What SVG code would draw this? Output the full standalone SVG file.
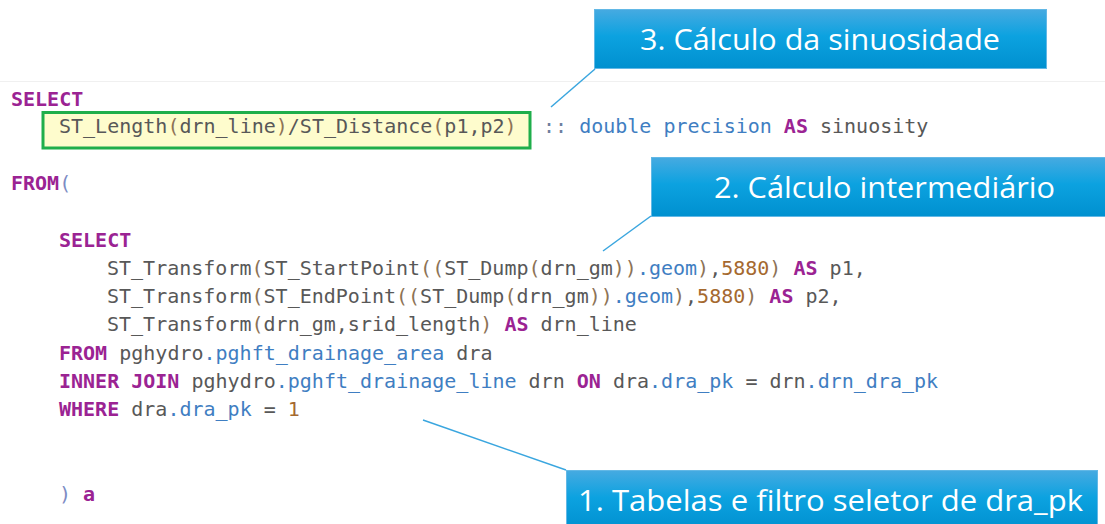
<svg xmlns="http://www.w3.org/2000/svg" width="1105" height="524" viewBox="0 0 1105 524">
  <defs>
    <linearGradient id="calloutFill" x1="0" y1="0" x2="0" y2="1">
      <stop offset="0" stop-color="#46aae1"/>
      <stop offset="0.45" stop-color="#0ca2e0"/>
      <stop offset="1" stop-color="#0090cf"/>
    </linearGradient>
    <style>
      .code { font-family: "DejaVu Sans Mono", "Liberation Mono", monospace; font-size: 20px; fill: #585858; }
      .kw { fill: #9b2393; font-weight: bold; }
      .id { fill: #3f7ec2; }
      .num { fill: #a5692f; }
      .par { fill: #8d7356; }
      .par2 { fill: #7d8cc4; }
      .op { fill: #6f7f9f; }
      .callout rect { fill: url(#calloutFill); stroke: #62b8e6; stroke-width: 1; }
      .callout text { font-family: "Open Sans", "Noto Sans", sans-serif; font-size: 29px; fill: #ffffff; }
      .conn line { stroke: #3aa6df; stroke-width: 1.5; fill: none; }
    </style>
  </defs>

  <rect x="0" y="0" width="1105" height="524" fill="#ffffff"/>
  <line x1="0" y1="81.5" x2="1105" y2="81.5" stroke="#f0f0f0" stroke-width="1"/>

  <!-- highlighted sinuosity expression -->
  <rect id="highlight" x="43" y="112.5" width="487" height="35.5" fill="#fefccd" stroke="#1fae4b" stroke-width="3"/>

  <!-- SQL listing -->
  <g id="sql" class="code" xml:space="preserve">
    <text x="11" y="105.7"><tspan class="kw">SELECT</tspan></text>
    <text x="59" y="133.3">ST_Length<tspan class="par">(</tspan>drn_line<tspan class="par">)</tspan>/ST_Distance<tspan class="par">(</tspan>p1,p2<tspan class="par">)</tspan></text>
    <text x="543" y="133.3"><tspan class="op">::</tspan> <tspan class="id">double precision</tspan> <tspan class="kw">AS</tspan> sinuosity</text>
    <text x="11" y="190"><tspan class="kw">FROM</tspan><tspan class="par2">(</tspan></text>
    <text x="59" y="246.7"><tspan class="kw">SELECT</tspan></text>
    <text x="107" y="274.9">ST_Transform<tspan class="par">(</tspan>ST_StartPoint<tspan class="par">((</tspan>ST_Dump<tspan class="par">(</tspan>drn_gm<tspan class="par">))</tspan><tspan class="id">.geom</tspan><tspan class="par">)</tspan>,<tspan class="num">5880</tspan><tspan class="par">)</tspan> <tspan class="kw">AS</tspan> p1,</text>
    <text x="107" y="303.1">ST_Transform<tspan class="par">(</tspan>ST_EndPoint<tspan class="par">((</tspan>ST_Dump<tspan class="par">(</tspan>drn_gm<tspan class="par">))</tspan><tspan class="id">.geom</tspan><tspan class="par">)</tspan>,<tspan class="num">5880</tspan><tspan class="par">)</tspan> <tspan class="kw">AS</tspan> p2,</text>
    <text x="107" y="331.3">ST_Transform<tspan class="par">(</tspan>drn_gm,srid_length<tspan class="par">)</tspan> <tspan class="kw">AS</tspan> drn_line</text>
    <text x="59" y="359.5"><tspan class="kw">FROM</tspan> pghydro<tspan class="id">.pghft_drainage_area</tspan> dra</text>
    <text x="59" y="387.7"><tspan class="kw">INNER JOIN</tspan> pghydro<tspan class="id">.pghft_drainage_line</tspan> drn <tspan class="kw">ON</tspan> dra<tspan class="id">.dra_pk</tspan> = drn<tspan class="id">.drn_dra_pk</tspan></text>
    <text x="59" y="415.9"><tspan class="kw">WHERE</tspan> dra<tspan class="id">.dra_pk</tspan> = <tspan class="num">1</tspan></text>
    <text x="59" y="500.5"><tspan class="par2">)</tspan> <tspan class="kw">a</tspan></text>
  </g>

  <!-- leader lines from callouts to the code -->
  <g id="connectors" class="conn">
    <line x1="595" y1="69" x2="551" y2="107"/>
    <line x1="651" y1="216" x2="603" y2="251"/>
    <line x1="566" y1="470" x2="423" y2="420"/>
  </g>

  <g id="callout-3" class="callout">
    <rect x="594.5" y="9.5" width="452" height="59"/>
    <text x="640" y="50" textLength="360" lengthAdjust="spacingAndGlyphs">3. Cálculo da sinuosidade</text>
  </g>

  <g id="callout-2" class="callout">
    <rect x="651.5" y="157.5" width="460" height="59"/>
    <text x="714" y="198" textLength="341" lengthAdjust="spacingAndGlyphs">2. Cálculo intermediário</text>
  </g>

  <g id="callout-1" class="callout">
    <rect x="566.5" y="470.5" width="531" height="60"/>
    <text x="578" y="511" textLength="505" lengthAdjust="spacingAndGlyphs">1. Tabelas e filtro seletor de dra_pk</text>
  </g>
</svg>
